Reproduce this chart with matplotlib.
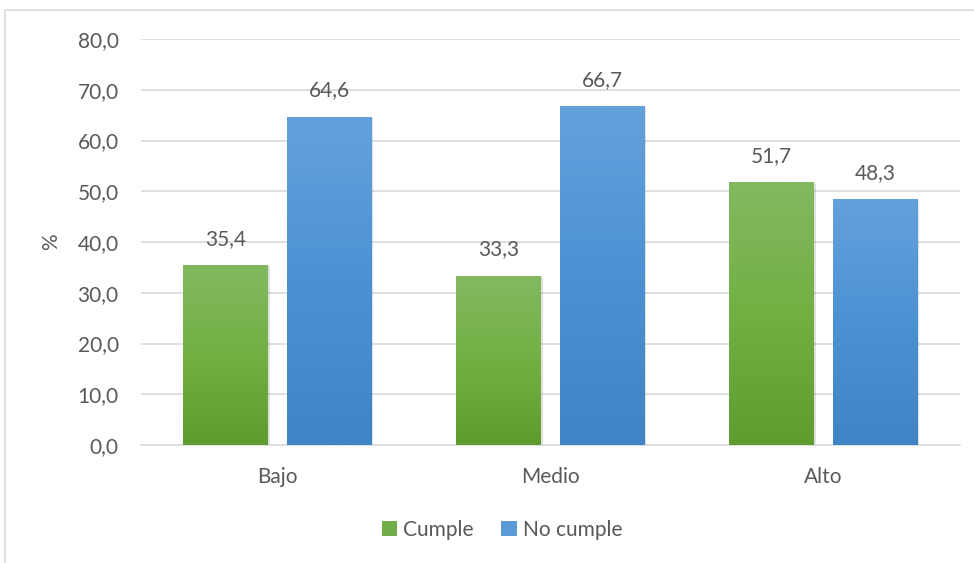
import numpy as np
import matplotlib
matplotlib.use("Agg")
import matplotlib.pyplot as plt
from matplotlib.colors import LinearSegmentedColormap
from matplotlib.patches import Rectangle, Patch

categories = ["Bajo", "Medio", "Alto"]
series_names = ["Cumple", "No cumple"]
cumple = [35.4, 33.3, 51.7]
no_cumple = [64.6, 66.7, 48.3]
yticks = [0, 10, 20, 30, 40, 50, 60, 70, 80]

plt.rcParams['font.family'] = ['Lato', 'DejaVu Sans']
txt = '#595959'
fs = 15

fig = plt.figure(figsize=(9.74, 5.63), dpi=100)
# outer chart border
fig.patches.append(Rectangle((5/974, -0.05), 2, 1.05 - 10/563, transform=fig.transFigure,
                             fill=False, edgecolor='#d9d9d9', linewidth=1.2))
ax = fig.add_axes([141/974, 1 - 445/563, 819/974, 406/563])

x = np.arange(len(categories))
w = 0.311
off = 0.19
green = LinearSegmentedColormap.from_list('g', ['#5e9c2f', '#72b043', '#82b960'])
blue = LinearSegmentedColormap.from_list('b', ['#3f84c5', '#4b92d4', '#64a1dc'])
grad = np.linspace(0, 1, 256).reshape(-1, 1)

for vals, xo, cmap in [(cumple, -off, green), (no_cumple, off, blue)]:
    bars = ax.bar(x + xo, vals, w, color='none', zorder=3)
    for b, v in zip(bars, vals):
        x0, wd = b.get_x(), b.get_width()
        # shadow
        ax.add_patch(Rectangle((x0 + 0.006, -0.4), wd, v + 0.2, facecolor='#000000',
                               alpha=0.12, edgecolor='none', zorder=2))
        ax.imshow(grad, extent=(x0, x0 + wd, 0, v), origin='lower', cmap=cmap,
                  aspect='auto', zorder=3)
        ax.annotate(f"{v:.1f}".replace('.', ','), (x0 + wd / 2, v), xytext=(0, 12),
                    textcoords='offset points', ha='center', va='bottom',
                    fontsize=fs, color=txt, zorder=4)

ax.set_xlim(-0.5, 2.5)
ax.set_ylim(0, 80)
ax.set_yticks(yticks)
ax.set_yticklabels([f"{t:.1f}".replace('.', ',') for t in yticks], fontsize=fs, color=txt)
ax.set_xticks(x)
ax.set_xticklabels(categories, fontsize=fs, color=txt)
ax.tick_params(axis='y', length=0, pad=16)
ax.tick_params(axis='x', length=0, pad=16)
ax.grid(axis='y', color='#d9d9d9', linewidth=1.2, zorder=0)
for s in ['top', 'right', 'left']:
    ax.spines[s].set_visible(False)
ax.spines['bottom'].set_color('#d9d9d9')
ax.spines['bottom'].set_linewidth(1.2)
ax.set_axisbelow(True)
ax.set_ylabel('%', fontsize=fs, color=txt, labelpad=12)

handles = [Patch(facecolor='#70ad47', edgecolor='none'), Patch(facecolor='#5b9bd5', edgecolor='none')]
fig.legend(handles, series_names, loc='center', bbox_to_anchor=(502/974, 1 - 530/563),
           ncol=2, frameon=False, fontsize=fs, labelcolor=txt, handlelength=0.75,
           handleheight=0.75, handletextpad=0.3, columnspacing=1.3)

fig.savefig('out.png', dpi=100)
